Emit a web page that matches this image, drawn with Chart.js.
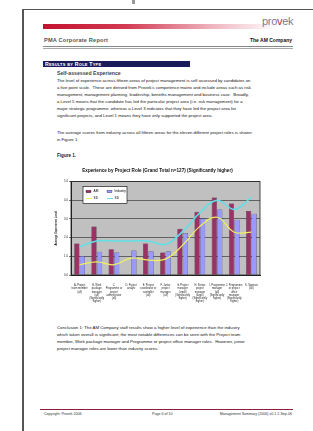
<!DOCTYPE html>
<html>
<head>
<meta charset="utf-8">
<script src="https://cdn.jsdelivr.net/npm/chart.js@4.4.0/dist/chart.umd.min.js"></script>
<style>
  html, body { margin: 0; padding: 0; background: #fff; }
  body { width: 313px; height: 431px; position: relative; overflow: hidden; font-family: "Liberation Sans", Arial, sans-serif; color: #111; }
  .abs { position: absolute; white-space: nowrap; }
  .para { font-size: 4.3px; line-height: 6.9px; color: #111; }
</style>
</head>
<body>
<div class="abs" style="left:132px;top:0;width:3px;height:4px;background:#999"></div>
<div class="abs" style="left:22px;top:9px;width:291px;height:1px;background:#555"></div>
<div class="abs" style="left:22px;top:9px;width:2px;height:422px;background:#555"></div>

<!-- header -->
<div class="abs" style="left:43px;top:24px;width:235px;height:5px;background:linear-gradient(to right,#c4122f 0%,#d23a52 35%,#efb5c0 72%,#fff 100%)"></div>
<div class="abs" style="left:262px;top:15px;font-size:11px;color:#7b7b8f;letter-spacing:-0.3px">pro<span style="color:#b0304a">v</span>ek</div>
<div class="abs" style="left:44px;top:37px;font-size:5.6px;font-weight:bold;color:#555;letter-spacing:0.2px">PMA Corporate Report</div>
<div class="abs" style="right:21px;top:37px;font-size:5px;font-weight:bold;color:#111">The AM Company</div>
<div class="abs" style="left:43px;top:46px;width:250px;height:1px;background:#888"></div>
<div class="abs" style="left:43px;top:48px;width:250px;height:1px;background:#aaa"></div>

<div class="abs" style="left:43px;top:61px;width:147px;height:6px;background:#1b1b5c"></div>
<div class="abs" style="left:45px;top:60.5px;font-size:5.2px;font-weight:bold;color:#fff;font-variant:small-caps;letter-spacing:0.2px">Results by Role Type</div>

<div class="abs" style="left:57px;top:70px;font-size:5.2px;font-weight:bold;color:#444">Self-assessed Experience</div>
<div class="abs para" style="left:57px;top:78px">
The level of experience across fifteen areas of project management is self assessed by candidates on<br>
a five point scale.&nbsp; These are derived from Provek's competence matrix and include areas such as risk<br>
management, management planning, leadership, benefits management and business case.&nbsp; Broadly,<br>
a Level 5 means that the candidate has led the particular project area (i.e. risk management) for a<br>
major strategic programme, whereas a Level 3 indicates that they have led the project area for<br>
significant projects, and Level 1 means they have only supported the project area.
</div>
<div class="abs para" style="left:57px;top:130px">
The average scores from industry across all fifteen areas for the eleven different project roles is shown<br>
in Figure 1.
</div>
<div class="abs" style="left:57px;top:153px;font-size:4.6px;font-weight:bold;color:#222">Figure 1.</div>

<div class="abs" style="left:30px;top:164px;width:260px;height:142px"><canvas id="chart"></canvas></div>

<div class="abs para" style="left:57px;top:325px">
Conclusion 1: The AM Company staff results show a higher level of experience than the industry<br>
which taken overall is significant; the most notable differences can be seen with the Project team<br>
member, Work package manager and Programme or project office manager roles.&nbsp; However, junior<br>
project manager roles are lower than industry scores.
</div>

<!-- footer -->
<div class="abs" style="left:40px;top:409px;width:253px;height:1px;background:#8b1f3f"></div>
<div class="abs" style="left:44px;top:412px;font-size:3.6px;color:#333">Copyright: Provek 2006</div>
<div class="abs" style="left:152px;top:412px;font-size:3.6px;color:#333">Page 6 of 10</div>
<div class="abs" style="right:21px;top:412px;font-size:3.6px;color:#333">Management Summary (2006) v0.1 2-Sep-06</div>

<script>
const roles = [
  ['A. Project', 'team member', '(all)'],
  ['B. Work', 'package', 'manager', '(all)', '(Significantly', 'higher)'],
  ['C.', 'Programme or', 'project', 'administrator', '(all)'],
  ['D. Project', 'analyst'],
  ['E. Project', 'coordinator or', 'controller', '(all)'],
  ['F. Junior', 'project', 'manager', '(all)'],
  ['G. Project', 'manager', '(small)', '(Significantly', 'higher)'],
  ['H. Senior', 'project', 'manager', '(large)', '(Significantly', 'higher)'],
  ['I. Programme', 'manager', '(all)', '(Significantly', 'higher)'],
  ['J. Programme', 'or project', 'office', 'manager', '(Significantly', 'higher)'],
  ['K. Sponsor', '(all)']
];
const amScores       = [1.69, 2.60, 1.38, null, 1.69, 1.20, 2.47, 3.38, 4.15, 3.82, 3.42];
const industryScores = [1.02, 1.24, 1.20, 1.31, 1.27, 1.27, 2.24, 3.02, 3.50, 2.96, 3.27];
const amSD           = [0.55, 0.70, 0.55, 0.90, 0.80, 0.85, 1.60, 2.60, 3.09, 2.29, 2.29];
const industrySD     = [1.51, 1.82, 1.82, 1.82, 1.82, 1.64, 2.33, 3.33, 4.00, 3.51, 4.15];
const yTicks = [0, 1, 2, 3, 4, 5];

const fontFamily = '"Liberation Sans", Arial, sans-serif';

// grey plot background + black frame like the Excel chart
const plotFrame = {
  id: 'plotFrame',
  beforeDraw(chart) {
    const { ctx, chartArea: a } = chart;
    ctx.save();
    ctx.fillStyle = '#c0c0c0';
    ctx.fillRect(a.left, a.top, a.width, a.height);
    ctx.restore();
  },
  afterDraw(chart) {
    const { ctx, chartArea: a } = chart;
    ctx.save();
    ctx.strokeStyle = '#222';
    ctx.lineWidth = 0.8;
    ctx.strokeRect(a.left, a.top, a.width, a.height);

    // legend box inside the plot
    const x = a.left + 12, y = a.top + 5, w = 44, h = 17;
    ctx.fillStyle = '#fff';
    ctx.fillRect(x, y, w, h);
    ctx.strokeStyle = '#000';
    ctx.lineWidth = 0.6;
    ctx.strokeRect(x, y, w, h);
    ctx.font = '3.2px ' + fontFamily;
    ctx.textBaseline = 'middle';
    const ds = chart.data.datasets;
    const cells = [[x + 3, y + 5], [x + 24, y + 5], [x + 3, y + 12], [x + 24, y + 12]];
    ds.forEach((d, i) => {
      const [cx, cy] = cells[i];
      if (d.type === 'line') {
        ctx.strokeStyle = d.borderColor;
        ctx.lineWidth = 1;
        ctx.beginPath();
        ctx.moveTo(cx, cy);
        ctx.lineTo(cx + 6, cy);
        ctx.stroke();
      } else {
        ctx.fillStyle = d.backgroundColor;
        ctx.fillRect(cx, cy - 1.2, 5, 2.4);
        ctx.strokeStyle = '#000';
        ctx.lineWidth = 0.3;
        ctx.strokeRect(cx, cy - 1.2, 5, 2.4);
      }
      ctx.fillStyle = '#000';
      ctx.fillText(d.label, cx + 7.5, cy);
    });
    ctx.restore();
  }
};

new Chart(document.getElementById('chart'), {
  data: {
    labels: roles,
    datasets: [
      { type: 'bar', label: 'AM', data: amScores, backgroundColor: '#993366', borderColor: '#3b0f25', borderWidth: 0.5, order: 2 },
      { type: 'bar', label: 'Industry', data: industryScores, backgroundColor: '#9999ff', borderColor: '#2a2a6a', borderWidth: 0.5, order: 2 },
      { type: 'line', label: 'SD', data: amSD, borderColor: '#f0f060', borderWidth: 1.2, pointRadius: 0, tension: 0.4, order: 1 },
      { type: 'line', label: 'SD', data: industrySD, borderColor: '#5fe0e6', borderWidth: 1.6, pointRadius: 0, tension: 0.4, order: 1 }
    ]
  },
  options: {
    responsive: true,
    maintainAspectRatio: false,
    animation: false,
    layout: { padding: { left: 25, right: 30, top: 1, bottom: 0 } },
    datasets: { bar: { categoryPercentage: 0.64, barPercentage: 0.95 } },
    plugins: {
      legend: { display: false },
      tooltip: { enabled: false },
      title: {
        display: true,
        text: 'Experience by Project Role (Grand Total n=127) (Significantly higher)',
        color: '#111',
        font: { family: fontFamily, size: 4.6, weight: 'bold' },
        padding: { top: 3, bottom: 8 }
      }
    },
    scales: {
      x: {
        grid: { display: false },
        border: { color: '#222' },
        ticks: { color: '#222', font: { family: fontFamily, size: 2.6 }, maxRotation: 0, autoSkip: false, padding: 1 },
        afterFit(scale) { scale.height = 31; }
      },
      y: {
        min: 0,
        max: 5,
        afterBuildTicks(scale) { scale.ticks = yTicks.map(v => ({ value: v })); },
        grid: { color: '#222', lineWidth: 0.6, tickLength: 2 },
        border: { color: '#222' },
        ticks: { color: '#222', font: { family: fontFamily, size: 2.8 }, padding: 1, callback: v => v.toFixed(1) },
        title: { display: true, text: 'Average Experience Level', color: '#222', font: { family: fontFamily, size: 2.8, weight: 'bold' }, padding: 0 },
        afterFit(scale) { scale.width = 16; }
      }
    }
  },
  plugins: [plotFrame]
});
</script>
</body>
</html>
